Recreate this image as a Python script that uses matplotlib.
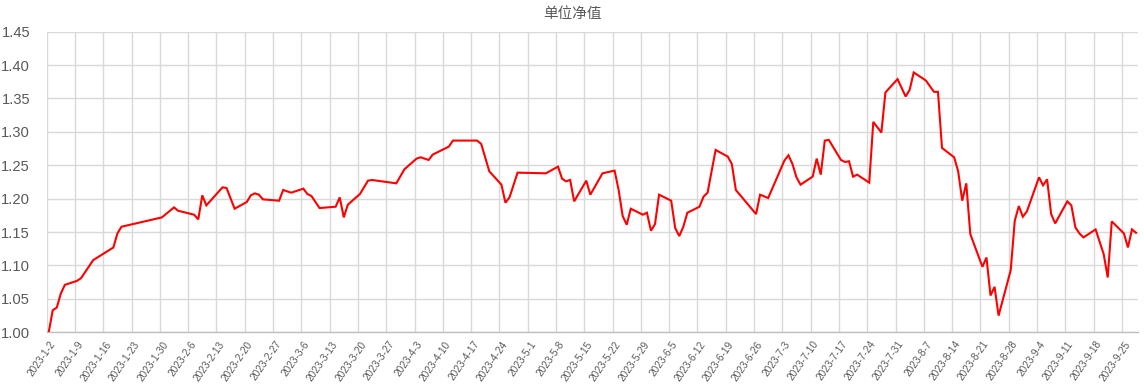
import matplotlib
matplotlib.use("Agg")
import matplotlib.pyplot as plt
import matplotlib.dates as mdates
import pandas as pd

title = "单位净值"

dates = [
    "2023-01-02", "2023-01-03", "2023-01-04", "2023-01-05", "2023-01-06",
    "2023-01-09", "2023-01-10", "2023-01-13", "2023-01-18", "2023-01-19",
    "2023-01-20", "2023-01-30", "2023-02-02", "2023-02-03", "2023-02-07",
    "2023-02-08", "2023-02-09", "2023-02-10", "2023-02-14", "2023-02-15",
    "2023-02-17", "2023-02-20", "2023-02-21", "2023-02-22", "2023-02-23",
    "2023-02-24", "2023-02-28", "2023-03-01", "2023-03-03", "2023-03-06",
    "2023-03-07", "2023-03-08", "2023-03-10", "2023-03-14", "2023-03-15",
    "2023-03-16", "2023-03-17", "2023-03-20", "2023-03-22", "2023-03-23",
    "2023-03-29", "2023-03-31", "2023-04-03", "2023-04-04", "2023-04-06",
    "2023-04-07", "2023-04-11", "2023-04-12", "2023-04-18", "2023-04-19",
    "2023-04-21", "2023-04-24", "2023-04-25", "2023-04-26", "2023-04-28",
    "2023-05-05", "2023-05-08", "2023-05-09", "2023-05-10", "2023-05-11",
    "2023-05-12", "2023-05-15", "2023-05-16", "2023-05-19", "2023-05-22",
    "2023-05-23", "2023-05-24", "2023-05-25", "2023-05-26", "2023-05-29",
    "2023-05-30", "2023-05-31", "2023-06-01", "2023-06-02", "2023-06-05",
    "2023-06-06", "2023-06-07", "2023-06-08", "2023-06-09", "2023-06-12",
    "2023-06-13", "2023-06-14", "2023-06-16", "2023-06-19", "2023-06-20",
    "2023-06-21", "2023-06-26", "2023-06-27", "2023-06-29", "2023-07-03",
    "2023-07-04", "2023-07-05", "2023-07-06", "2023-07-07", "2023-07-10",
    "2023-07-11", "2023-07-12", "2023-07-13", "2023-07-14", "2023-07-17",
    "2023-07-18", "2023-07-19", "2023-07-20", "2023-07-21", "2023-07-24",
    "2023-07-25", "2023-07-27", "2023-07-28", "2023-07-31", "2023-08-02",
    "2023-08-03", "2023-08-04", "2023-08-07", "2023-08-09", "2023-08-10",
    "2023-08-11", "2023-08-14", "2023-08-15", "2023-08-16", "2023-08-17",
    "2023-08-18", "2023-08-21", "2023-08-22", "2023-08-23", "2023-08-24",
    "2023-08-25", "2023-08-28", "2023-08-29", "2023-08-30", "2023-08-31",
    "2023-09-01", "2023-09-04", "2023-09-05", "2023-09-06", "2023-09-07",
    "2023-09-08", "2023-09-11", "2023-09-12", "2023-09-13", "2023-09-14",
    "2023-09-15", "2023-09-18", "2023-09-20", "2023-09-21", "2023-09-22",
    "2023-09-25", "2023-09-26", "2023-09-27", "2023-09-28",
]

nav = [
    1.000, 1.033, 1.037, 1.058, 1.071,
    1.077, 1.081, 1.108, 1.127, 1.148,
    1.158, 1.172, 1.187, 1.182, 1.176,
    1.169, 1.205, 1.190, 1.217, 1.216,
    1.185, 1.195, 1.205, 1.208, 1.206,
    1.199, 1.197, 1.213, 1.209, 1.215,
    1.207, 1.204, 1.186, 1.188, 1.202,
    1.172, 1.191, 1.207, 1.227, 1.228,
    1.223, 1.244, 1.260, 1.262, 1.258,
    1.266, 1.278, 1.287, 1.287, 1.282,
    1.241, 1.221, 1.194, 1.202, 1.239,
    1.238, 1.248, 1.230, 1.226, 1.228,
    1.196, 1.227, 1.206, 1.238, 1.242,
    1.213, 1.174, 1.161, 1.185, 1.176,
    1.179, 1.152, 1.162, 1.206, 1.197,
    1.156, 1.144, 1.158, 1.179, 1.188,
    1.203, 1.209, 1.273, 1.263, 1.252,
    1.213, 1.177, 1.206, 1.201, 1.257,
    1.265, 1.252, 1.232, 1.221, 1.233,
    1.260, 1.236, 1.287, 1.288, 1.258,
    1.255, 1.256, 1.233, 1.236, 1.224,
    1.315, 1.299, 1.359, 1.379, 1.353,
    1.363, 1.389, 1.377, 1.360, 1.360,
    1.276, 1.262, 1.241, 1.197, 1.223,
    1.147, 1.098, 1.112, 1.055, 1.068,
    1.025, 1.093, 1.167, 1.189, 1.173,
    1.181, 1.232, 1.220, 1.229, 1.177,
    1.163, 1.196, 1.190, 1.157, 1.148,
    1.142, 1.154, 1.117, 1.082, 1.166,
    1.148, 1.127, 1.154, 1.149,
]

tick_dates = pd.date_range("2023-01-02", "2023-09-25", freq="7D")
tick_labels = [f"{d.year}-{d.month}-{d.day}" for d in tick_dates]
y_ticks = [1.00, 1.05, 1.10, 1.15, 1.20, 1.25, 1.30, 1.35, 1.40, 1.45]

x = mdates.date2num(pd.to_datetime(dates).to_pydatetime())
tx = mdates.date2num(tick_dates.to_pydatetime())

fig = plt.figure(figsize=(11.44, 3.89), dpi=100)
ax = fig.add_axes([0.0408, 0.1458, 0.954, 0.7727])

ax.plot(x, nav, color="#ff0000", lw=1.5, solid_joinstyle="miter", zorder=3)

ax.set_xlim(x[0] - 0.5, x[-1] + 0.5)
ax.set_ylim(1.00, 1.45)

ax.set_xticks(tx)
ax.set_xticklabels(tick_labels, rotation=55, ha="right", rotation_mode="anchor",
                   fontsize=7.2, color="#595959", family="Liberation Sans")
ax.set_xticks(tx - 0.5, minor=True)
ax.tick_params(axis="x", which="both", length=0, pad=5)

ax.set_yticks(y_ticks)
ax.set_yticklabels([f"{v:.2f}" for v in y_ticks], fontsize=10.6,
                   color="#595959", family="Liberation Sans")
ax.tick_params(axis="y", length=0, pad=12)

ax.grid(axis="y", which="major", color="#d9d9d9", lw=1)
ax.grid(axis="x", which="minor", color="#d9d9d9", lw=1)
ax.grid(axis="x", which="major", visible=False)

for s in ["top", "right", "left"]:
    ax.spines[s].set_visible(False)
ax.spines["bottom"].set_color("#bfbfbf")
ax.spines["bottom"].set_linewidth(1)

fig.text(0.5, 0.982, title, ha="center", va="top", fontsize=10.5,
         color="#595959", family=["Noto Sans CJK SC", "DejaVu Sans"])

fig.savefig("out.png", dpi=100)
